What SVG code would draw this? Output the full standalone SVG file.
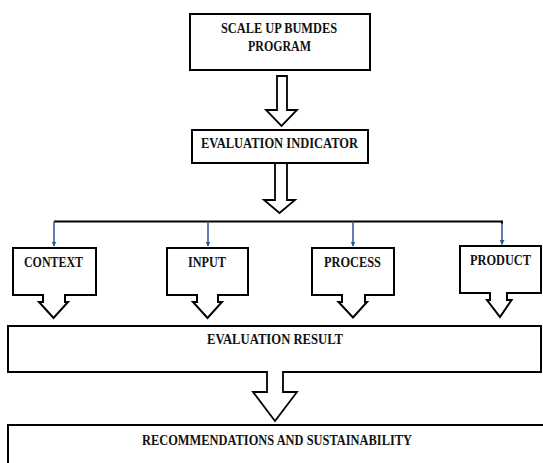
<svg xmlns="http://www.w3.org/2000/svg" width="543" height="463" viewBox="0 0 543 463">
<style>
.box{fill:#fff;stroke:#000;stroke-width:2}
.blk{fill:#fff;stroke:#000;stroke-width:1.8;stroke-linejoin:miter}
.t{font-family:"Liberation Serif","Times New Roman",serif;font-weight:bold;font-size:14px;fill:#111;text-anchor:middle}
.line{fill:none;stroke:#000;stroke-width:2}
.blue{fill:none;stroke:#2f5597;stroke-width:1.5}
</style>
<defs>
<marker id="ah" viewBox="0 0 10 10" refX="9" refY="5" markerWidth="5" markerHeight="5" orient="auto" markerUnits="userSpaceOnUse">
<path d="M0,0 L10,5 L0,10 z" fill="#2f5597"/>
</marker>
</defs>
<g id="connectors">
<path class="blk" d="M277,76 H287 V110 H297 L281.5,126 L266,110 H277 Z"/>
<path class="blk" d="M275,163 H287 V200 H295 L279.5,213 L264,200 H275 Z"/>
<path class="line" d="M54,221.5 H502 V224"/>
<line class="blue" x1="54" y1="221.5" x2="54" y2="246" marker-end="url(#ah)"/>
<line class="blue" x1="208" y1="221.5" x2="208" y2="246" marker-end="url(#ah)"/>
<line class="blue" x1="353" y1="221.5" x2="353" y2="246" marker-end="url(#ah)"/>
<line class="blue" x1="502" y1="223" x2="502" y2="244.5" marker-end="url(#ah)"/>
</g>
<g id="scale-up">
<rect class="box" x="190" y="14" width="180" height="56"/>
<text class="t" x="279" y="33" textLength="116" lengthAdjust="spacingAndGlyphs">SCALE UP BUMDES</text>
<text class="t" x="279.5" y="51" textLength="63" lengthAdjust="spacingAndGlyphs">PROGRAM</text>
</g>
<g id="eval-indicator">
<rect class="box" x="192" y="130" width="176" height="33"/>
<text class="t" x="279.5" y="148" textLength="157" lengthAdjust="spacingAndGlyphs">EVALUATION INDICATOR</text>
</g>
<g id="context">
<path class="box" d="M13,248 H96 V295 H65 V302 H68 L53.5,318 L39,302 H43 V295 H13 Z"/>
<text class="t" x="53.5" y="267" textLength="59" lengthAdjust="spacingAndGlyphs">CONTEXT</text>
</g>
<g id="input">
<path class="box" d="M167,248 H248 V295 H218 V302 H222 L207.5,318 L193,302 H197 V295 H167 Z"/>
<text class="t" x="207" y="267" textLength="38" lengthAdjust="spacingAndGlyphs">INPUT</text>
</g>
<g id="process">
<path class="box" d="M312,248 H394 V295 H365 V302 H367 L353,317.5 L338.5,302 H342 V295 H312 Z"/>
<text class="t" x="352.5" y="267" textLength="57" lengthAdjust="spacingAndGlyphs">PROCESS</text>
</g>
<g id="product">
<path class="box" d="M460,246 H541 V293 H507 V300 H511.5 L500,317 L487,300 H490 V293 H460 Z"/>
<text class="t" x="500.5" y="265" textLength="61" lengthAdjust="spacingAndGlyphs">PRODUCT</text>
</g>
<g id="eval-result">
<rect class="box" x="8" y="326" width="533" height="46"/>
<text class="t" x="275" y="344" textLength="136" lengthAdjust="spacingAndGlyphs">EVALUATION RESULT</text>
</g>
<g id="er-arrow">
<path class="blk" d="M267,371 V392 H253 L275,421 L297,392 H283 V371"/>
<rect x="268" y="369" width="14" height="4" fill="#fff"/>
</g>
<g id="recommendations">
<rect class="box" x="8" y="425" width="540" height="50"/>
<text class="t" x="277" y="445" textLength="270" lengthAdjust="spacingAndGlyphs">RECOMMENDATIONS AND SUSTAINABILITY</text>
</g>
</svg>
